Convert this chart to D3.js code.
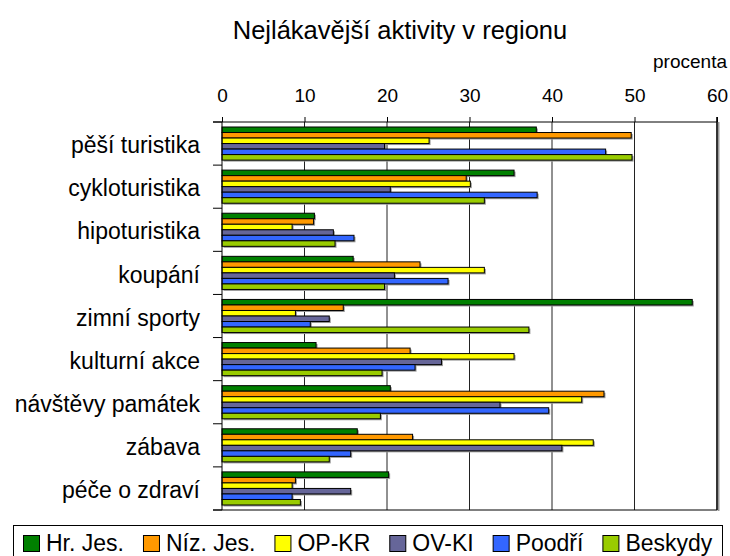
<!DOCTYPE html>
<html>
<head>
<meta charset="utf-8">
<script src="https://cdn.jsdelivr.net/npm/d3@7"></script>
<style>
  body { margin: 0; background: #fff; }
  svg { font-family: "Liberation Sans", Arial, sans-serif; }
</style>
</head>
<body>
<div id="chart"></div>
<script>
var categories = ['pěší turistika', 'cykloturistika', 'hipoturistika', 'koupání', 'zimní sporty',
  'kulturní akce', 'návštěvy památek', 'zábava', 'péče o zdraví'];
var regions = ['Hr. Jes.', 'Níz. Jes.', 'OP-KR', 'OV-KI', 'Poodří', 'Beskydy'];
var colors = ['#008000', '#ff9900', '#ffff00', '#666699', '#3366ff', '#99cc00'];

// one array per region, in category order
var hrJes   = [38.1, 35.4, 11.2, 15.9, 57.0, 11.4, 20.4, 16.4, 20.2];
var nizJes  = [49.6, 29.6, 11.1, 24.0, 14.7, 22.8, 46.3, 23.1, 8.9];
var opKr    = [25.1, 30.1, 8.5, 31.8, 8.9, 35.4, 43.6, 45.0, 8.5];
var ovKi    = [19.7, 20.4, 13.5, 20.9, 13.0, 26.6, 33.7, 41.2, 15.6];
var poodri  = [46.5, 38.2, 16.0, 27.4, 10.7, 23.4, 39.6, 15.6, 8.5];
var beskydy = [49.7, 31.8, 13.7, 19.7, 37.2, 19.4, 19.2, 13.0, 9.5];
var xTicks = [0, 10, 20, 30, 40, 50, 60];

var series = [hrJes, nizJes, opKr, ovKi, poodri, beskydy];

var width = 730;
var height = 556;
// plot area (note: "top" is taken by window.top)
var plotLeft = 222, plotRight = 717, plotTop = 122, plotBottom = 510;

var svg = d3.select('#chart')
  .append('svg')
  .attr('width', width)
  .attr('height', height);

var x = d3.scaleLinear().domain([0, 60]).range([plotLeft, plotRight]);
var y0 = d3.scaleBand().domain(categories).range([plotTop, plotBottom]);
var y1 = d3.scaleBand().domain(d3.range(regions.length)).range([5, y0.bandwidth() - 5]);

// title
svg.append('text')
  .attr('x', 400)
  .attr('y', 39)
  .attr('text-anchor', 'middle')
  .style('font-size', '25.5px')
  .text('Nejlákavější aktivity v regionu');

svg.append('text')
  .attr('x', 727)
  .attr('y', 68)
  .attr('text-anchor', 'end')
  .style('font-size', '19px')
  .text('procenta');

// grid lines
svg.append('g')
  .selectAll('line')
  .data(xTicks.slice(1, -1))
  .join('line')
  .attr('x1', d => x(d)).attr('x2', d => x(d))
  .attr('y1', plotTop).attr('y2', plotBottom)
  .attr('stroke', '#222')
  .attr('stroke-width', 1);

// bars
var groups = svg.append('g')
  .selectAll('g')
  .data(categories)
  .join('g')
  .attr('transform', d => `translate(0, ${y0(d)})`);

groups.selectAll('rect.shadow')
  .data((d, i) => series.map((s, j) => ({ v: s[i], j: j })))
  .join('rect')
  .attr('class', 'shadow')
  .attr('x', x(0) + 1.5)
  .attr('y', d => y1(d.j) + 1.5)
  .attr('width', d => x(d.v) - x(0))
  .attr('height', y1.bandwidth())
  .attr('fill', '#999');

groups.selectAll('rect.bar')
  .data((d, i) => series.map((s, j) => ({ v: s[i], j: j })))
  .join('rect')
  .attr('class', 'bar')
  .attr('x', x(0))
  .attr('y', d => y1(d.j))
  .attr('width', d => x(d.v) - x(0))
  .attr('height', y1.bandwidth())
  .attr('fill', d => colors[d.j])
  .attr('stroke', '#000')
  .attr('stroke-width', 1);

// right border with shadow
svg.append('line')
  .attr('x1', plotRight + 1.5).attr('x2', plotRight + 1.5)
  .attr('y1', plotTop).attr('y2', plotBottom + 1)
  .attr('stroke', '#999').attr('stroke-width', 2);
svg.append('line')
  .attr('x1', plotRight).attr('x2', plotRight)
  .attr('y1', plotTop - 5).attr('y2', plotBottom)
  .attr('stroke', '#333').attr('stroke-width', 2);

// top axis
var xAxis = d3.axisTop(x).tickValues(xTicks).tickSize(5).tickSizeOuter(0);
var gx = svg.append('g')
  .attr('transform', `translate(0, ${plotTop})`)
  .call(xAxis);
gx.select('.domain').remove();
gx.append('line')
  .attr('x1', 213).attr('x2', plotRight)
  .attr('stroke', '#000');
gx.selectAll('.tick line').attr('stroke', '#000');
gx.selectAll('.tick text')
  .attr('y', -20)
  .attr('fill', '#000')
  .style('font-size', '19px')
  .style('font-family', '"Liberation Sans", Arial, sans-serif');

// left axis: ticks at category boundaries
var bounds = categories.map(c => y0(c)).concat([plotBottom]);
svg.append('line')
  .attr('x1', plotLeft).attr('x2', plotLeft)
  .attr('y1', plotTop).attr('y2', plotBottom)
  .attr('stroke', '#000');
svg.append('g')
  .selectAll('line')
  .data(bounds)
  .join('line')
  .attr('x1', 213).attr('x2', plotLeft)
  .attr('y1', d => d).attr('y2', d => d)
  .attr('stroke', '#000');
svg.append('line')
  .attr('x1', 213).attr('x2', plotRight)
  .attr('y1', plotBottom).attr('y2', plotBottom)
  .attr('stroke', '#000');

svg.append('g')
  .selectAll('text')
  .data(categories)
  .join('text')
  .attr('x', 200)
  .attr('y', d => y0(d) + y0.bandwidth() / 2)
  .attr('dy', '0.42em')
  .attr('text-anchor', 'end')
  .style('font-size', '23px')
  .text(d => d);

// legend
var legend = svg.append('g');
legend.append('rect')
  .attr('x', 13.5).attr('y', 525.5)
  .attr('width', 709).attr('height', 40)
  .attr('fill', '#fff')
  .attr('stroke', '#000');

var items = legend.selectAll('g.item')
  .data(regions)
  .join('g')
  .attr('class', 'item');
items.append('rect')
  .attr('x', 0.5).attr('y', 0.5)
  .attr('width', 16).attr('height', 16)
  .attr('fill', (d, i) => colors[i])
  .attr('stroke', '#000');
items.append('text')
  .attr('x', 23)
  .attr('y', 16)
  .style('font-size', '23px')
  .text(d => d);

// lay the items out one after another
var cursor = 23;
items.each(function() {
  var item = d3.select(this);
  item.attr('transform', `translate(${cursor}, 535)`);
  cursor += 23 + item.select('text').node().getComputedTextLength() + 19;
});
</script>
</body>
</html>
